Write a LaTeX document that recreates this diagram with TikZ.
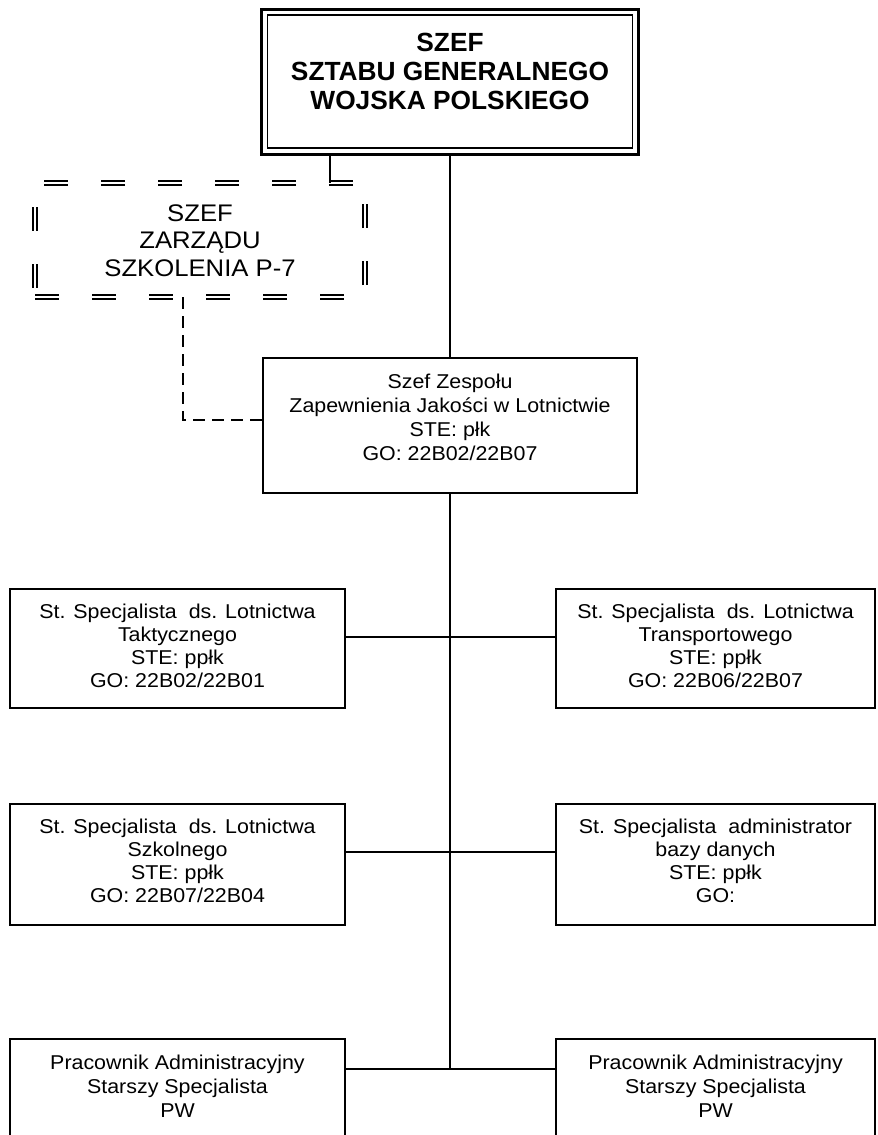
\documentclass[tikz,border=0pt]{standalone}
\usepackage{fontspec}
\setmainfont{Liberation Sans}
\newfontfamily\regfont{Liberation Sans}[FakeStretch=1.07]
\begin{document}
\begin{tikzpicture}[x=1pt,y=-1pt,
  every node/.style={inner sep=0pt, outer sep=0pt},
  orgbox/.style={draw, line width=1.8pt, minimum width=335pt, minimum height=119pt},
  smalltxt/.style={align=center, font=\regfont\fontsize{20}{23}\selectfont},
  trunk/.style={line width=1.2pt},
  hconn/.style={line width=1.8pt},
  dconn/.style={line width=1.5pt, dash pattern=on 12pt off 7pt},
  ddouble/.style={draw, line width=1.6pt, double distance=2.2pt, double=white, dash pattern=on 24pt off 33pt}
]
\useasboundingbox (0,0) rectangle (878,1135);

% top box
\node[draw, line width=3pt, minimum width=377pt, minimum height=145pt] (szef) at (450,81.5) {};
\draw[line width=1.2pt] ([shift={(6,6)}]szef.north west) rectangle ([shift={(-6,-6)}]szef.south east);
\node[align=center, font=\bfseries\fontsize{26.3}{29}\selectfont] (szeftxt) at (450,74.3)
  {\strut SZEF\\ \strut SZTABU GENERALNEGO\\ \strut WOJSKA POLSKIEGO};

% dashed double box
\node[ddouble, minimum width=330pt, minimum height=114pt] (zarzad) at (200,240) {};
\node[align=center, font=\regfont\fontsize{24}{27.5}\selectfont] (zarzadtxt) at (200,243.1)
  {\strut SZEF\\ \strut ZARZĄDU\\ \strut SZKOLENIA P-7};

% zespol box
\node[draw, line width=1.8pt, minimum width=374pt, minimum height=135pt] (zespol) at (450,425.5) {};
\node[align=center, font=\regfont\fontsize{20}{24}\selectfont] (zespoltxt) at (450,419.4)
  {\strut Szef Zespołu\\ \strut Zapewnienia Jakości w Lotnictwie\\ \strut STE: płk\\ \strut GO: 22B02/22B07};

% level 2
\node[orgbox] (l2) at (177.5,648.5) {};
\node[orgbox, minimum width=319pt] (r2) at (715.5,648.5) {};
\node[smalltxt] (l2txt) at (177.5,648.6)
  {\strut St. Specjalista \ ds. Lotnictwa\\ \strut Taktycznego\\ \strut STE: ppłk\\ \strut GO: 22B02/22B01};
\node[smalltxt] (r2txt) at (715.5,648.6)
  {\strut St. Specjalista \ ds. Lotnictwa\\ \strut Transportowego\\ \strut STE: ppłk\\ \strut GO: 22B06/22B07};

% level 3
\node[orgbox, minimum height=121pt] (l3) at (177.5,864.5) {};
\node[orgbox, minimum width=319pt, minimum height=121pt] (r3) at (715.5,864.5) {};
\node[smalltxt] (l3txt) at (177.5,863)
  {\strut St. Specjalista \ ds. Lotnictwa\\ \strut Szkolnego\\ \strut STE: ppłk\\ \strut GO: 22B07/22B04};
\node[smalltxt] (r3txt) at (715.5,863)
  {\strut St. Specjalista \ administrator\\ \strut bazy danych\\ \strut STE: ppłk\\ \strut GO:};

% level 4 (cut by page bottom)
\node[orgbox, minimum height=140pt] (l4) at (177.5,1109) {};
\node[orgbox, minimum width=319pt, minimum height=140pt] (r4) at (715.5,1109) {};
\node[align=center, font=\regfont\fontsize{20}{24}\selectfont] (l4txt) at (177.5,1088.4)
  {\strut Pracownik Administracyjny\\ \strut Starszy Specjalista\\ \strut PW};
\node[align=center, font=\regfont\fontsize{20}{24}\selectfont] (r4txt) at (715.5,1088.4)
  {\strut Pracownik Administracyjny\\ \strut Starszy Specjalista\\ \strut PW};

% helper coordinates
\coordinate (c330) at (330,0);
\coordinate (c183) at (183,0);
\coordinate (jz) at (0,420);
\coordinate (j2) at (450,637);
\coordinate (j3) at (450,852);
\coordinate (j4) at (450,1069);

% connectors
\draw[trunk] (szef.south) -- (zespol.north);
\draw[trunk] (zespol.south) -- (j4);
\draw[trunk] (szef.south -| c330) -- (zarzad.north -| c330);
\draw[dconn] (zarzad.south -| c183) |- (zespol.west |- jz);
\draw[hconn] (l2.east |- j2) -- (r2.west |- j2);
\draw[hconn] (l3.east |- j3) -- (r3.west |- j3);
\draw[hconn] (l4.east |- j4) -- (r4.west |- j4);
\end{tikzpicture}
\end{document}
